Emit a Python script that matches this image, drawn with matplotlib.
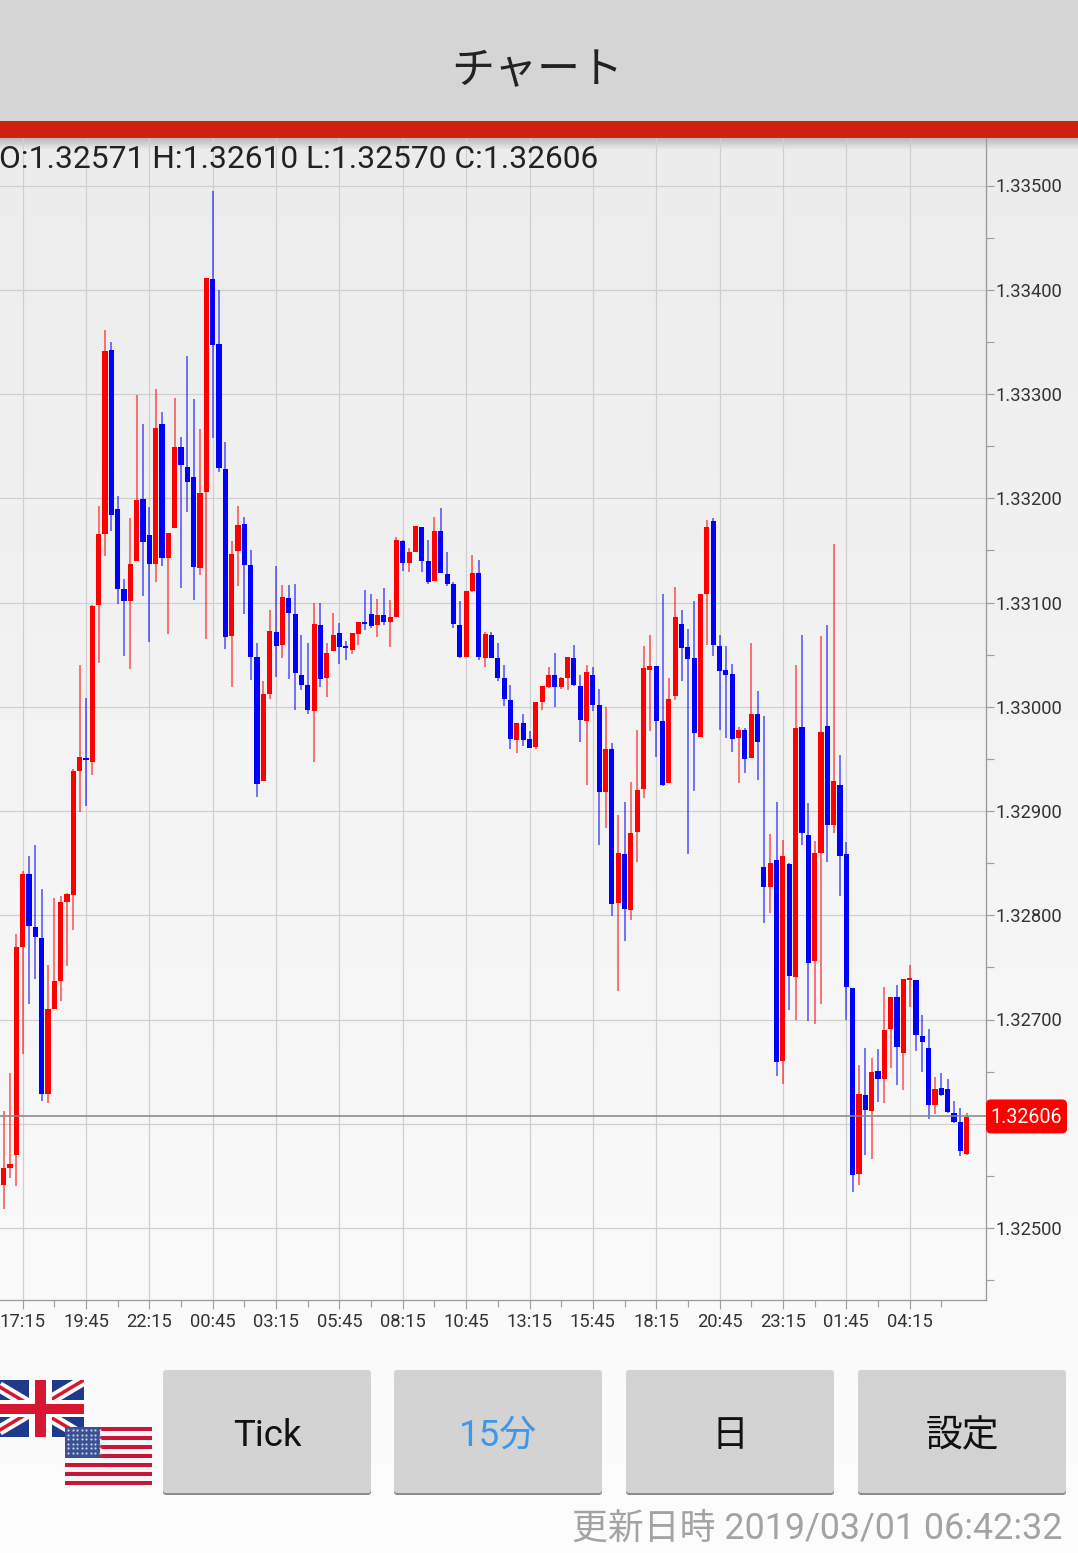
import numpy as np
import matplotlib
matplotlib.use("Agg")
import matplotlib.pyplot as plt
from matplotlib.patches import Rectangle, FancyBboxPatch

W, H = 1078, 1553

# prices in 1e-5 units, first bar is 3 bars before the 17:15 tick
opens = [132541,132558,132570,
 132770,132840,132789,132778,132629,132710,132737,132813,132819,132938,
 132950,132947,133098,133166,133342,133190,133113,133101,133140,133199,
 133165,133137,133271,133143,133171,133249,133230,133220,133133,133206,
 133410,133348,133228,133068,133149,133175,133136,133048,132929,133012,
 133072,133059,133104,133089,133030,133021,132996,133078,133028,133053,
 133071,133058,133054,133070,133080,133089,133078,133088,133081,133086,
 133159,133138,133148,133172,133140,133121,133169,133127,133118,133078,
 133048,133111,133128,133047,133069,133047,133028,133006,132968,132984,
 132969,132961,133005,133019,133030,133019,133028,133047,133020,132986,
 133030,133002,132918,132959,132812,132859,132805,132880,132921,133035,
 133039,132986,132927,133010,133079,133057,133047,132971,133108,133178,
 133058,133035,133031,132970,132978,132951,132993,132846,132827,132853,
 132660,132849,132741,132981,132877,132756,132860,132982,132887,132925,
 132859,132730,132552,132628,132612,132651,132643,132691,132722,132668,
 132738,132738,132684,132673,132618,132634,132633,132610,132602,132571]
closes = [132558,132561,132770,
 132840,132790,132779,132629,132710,132737,132813,132820,132938,132952,
 132949,133097,133166,133341,133184,133113,133101,133137,133198,133158,
 133137,133267,133143,133167,133249,133232,133216,133134,133205,133411,
 133347,133229,133067,133147,133174,133136,133048,132926,133012,133073,
 133058,133105,133090,133032,133021,132997,133079,133027,133052,133069,
 133057,133056,133071,133081,133079,133077,133088,133081,133086,133160,
 133138,133148,133173,133140,133120,133169,133128,133118,133079,133048,
 133111,133128,133048,133070,133047,133028,133007,132969,132984,132968,
 132960,133005,133020,133030,133019,133028,133048,133021,132987,133033,
 133002,132918,132959,132811,132860,132806,132879,132920,133037,133039,
 132986,132925,133007,133086,133056,133046,132975,133108,133172,133059,
 133034,133030,132969,132978,132950,132993,132966,132827,132850,132659,
 132857,132742,132980,132879,132754,132860,132976,132887,132929,132857,
 132731,132551,132629,132613,132650,132643,132690,132722,132674,132739,
 132739,132685,132678,132618,132633,132628,132611,132602,132574,132606]
highs = [132612,132649,132782,
 132842,132857,132867,132825,132752,132817,132818,132821,132940,133040,
 133008,133098,133193,133361,133350,133202,133123,133181,133299,133271,
 133192,133305,133283,133167,133296,133259,133336,133295,133266,133411,
 133495,133400,133254,133159,133193,133182,133150,133061,133025,133093,
 133135,133117,133117,133118,133069,133061,133100,133100,133061,133090,
 133080,133063,133071,133081,133112,133108,133103,133114,133102,133163,
 133160,133152,133173,133172,133160,133182,133191,133148,133120,133101,
 133111,133146,133141,133072,133072,133061,133040,133021,132984,132993,
 132977,133005,133020,133038,133052,133029,133048,133059,133030,133040,
 133038,133017,133000,132965,132896,132909,132928,132978,133058,133069,
 133039,133108,133028,133115,133093,133075,133101,133108,133179,133181,
 133069,133058,133041,132981,132980,133061,133015,132991,132878,132909,
 132872,132850,133040,133069,132908,132871,133068,133078,133156,132954,
 132870,132730,132656,132673,132663,132672,132731,132722,132733,132739,
 132752,132738,132704,132691,132645,132649,132643,132622,132615,132610]
lows = [132518,132548,132540,
 132667,132715,132739,132622,132620,132710,132718,132751,132786,132899,
 132905,132935,133042,133145,133169,133099,133049,133036,133140,133106,
 133062,133120,133135,133070,133171,133114,133187,133102,133126,133065,
 133258,133225,133055,133019,133116,133089,133026,132913,132929,133007,
 133029,133047,133027,132997,133016,132993,132947,133019,133009,133053,
 133041,133045,133051,133059,133074,133076,133067,133078,133057,133086,
 133130,133129,133148,133129,133118,133121,133128,133116,133076,133047,
 133048,133110,133045,133038,133047,133025,133001,132959,132956,132962,
 132960,132959,132997,133018,133000,133017,133016,133020,132966,132925,
 132996,132867,132884,132799,132727,132775,132795,132851,132912,132977,
 132952,132924,132927,133006,133025,132859,132919,132971,133059,133049,
 132978,132970,132957,132927,132936,132951,132930,132793,132802,132646,
 132638,132709,132700,132867,132699,132696,132715,132851,132879,132818,
 132700,132535,132541,132570,132566,132621,132620,132653,132637,132632,
 132712,132670,132650,132605,132609,132627,132610,132601,132569,132570]

time_labels = ["17:15","19:45","22:15","00:45","03:15","05:45","08:15","10:45",
               "13:15","15:45","18:15","20:45","23:15","01:45","04:15"]
price_ticks = [1.325,1.326,1.327,1.328,1.329,1.330,1.331,1.332,1.333,1.334,1.335]
last_price = 1.32606
last_line = 1.32607  # the line sits a hair above the printed close
ohlc_text = "O:1.32571 H:1.32610 L:1.32570 C:1.32606"
button_labels = ["Tick","15分","日","設定"]
update_text = "更新日時 2019/03/01 06:42:32"

FONT = ["Roboto","Noto Sans CJK JP","DejaVu Sans"]
plt.rcParams["font.family"] = FONT
RED = "#ff0000"
BLUE = "#0000ff"
px = 72/100  # one pixel in points

fig = plt.figure(figsize=(W/100, H/100), dpi=100)

# app screen behind the chart, in pixel coordinates
ui = fig.add_axes([0,0,1,1], zorder=0)
ui.set_xlim(0,W); ui.set_ylim(H,0); ui.axis("off")
grad = np.linspace(0,1,256).reshape(-1,1)
ui.imshow(grad, extent=[0,W,1553,138], aspect="auto", cmap=matplotlib.colors.LinearSegmentedColormap.from_list("bg",["#ececec","#fdfdfd"]), zorder=0)
ui.set_xlim(0,W); ui.set_ylim(H,0)
shadow = np.zeros((32,1,4)); shadow[:,0,3] = np.linspace(0.22,0,32)
ui.imshow(shadow, extent=[0,W,150,138], aspect="auto", zorder=1)
ui.set_xlim(0,W); ui.set_ylim(H,0)
ui.add_patch(Rectangle((0,0),W,121,fc="#d5d5d5",ec="none",zorder=2))
ui.add_patch(Rectangle((0,121),W,17,fc="#d2200f",ec="none",zorder=2))
ui.text(537,72,"チャート",ha="center",va="center",fontsize=31,color="#222222",zorder=3)

# buttons
bx = [163,394,626,858]
for x,lab in zip(bx,button_labels):
    ui.add_patch(FancyBboxPatch((x+2,1373),204,120,boxstyle="round,pad=2,rounding_size=3",mutation_scale=1,
                                fc="#8c8c8c",ec="none",zorder=2))
    ui.add_patch(FancyBboxPatch((x+2,1372),204,119,boxstyle="round,pad=2,rounding_size=3",mutation_scale=1,
                                fc="#d3d3d3",ec="none",zorder=3))
    col = "#3f97ea" if lab=="15分" else "#111111"
    ui.text(x+104,1436,lab,ha="center",va="center",fontsize=26.5,color=col,zorder=4)
ui.text(1062,1529,update_text,ha="right",va="center",fontsize=25.8,color="#a3a3a3",zorder=3)

# flags
navy, fred = "#1f3a8a", "#d6172f"
ui.add_patch(Rectangle((0,1380),84,57,fc=navy,ec="none",zorder=2))
clip_uk = Rectangle((0,1380),84,57,transform=ui.transData)
for a,b in [((-12,1380),(84,1437)),((-12,1437),(84,1380))]:
    l_, = ui.plot([a[0],b[0]],[a[1],b[1]],color="white",lw=11*px,solid_capstyle="butt",zorder=3)
    l_.set_clip_path(clip_uk)
    l_, = ui.plot([a[0],b[0]],[a[1],b[1]],color=fred,lw=3.5*px,solid_capstyle="butt",zorder=3)
    l_.set_clip_path(clip_uk)
ui.add_patch(Rectangle((0,1400),84,17,fc="white",ec="none",zorder=3))
ui.add_patch(Rectangle((29,1380),23,57,fc="white",ec="none",zorder=3))
ui.add_patch(Rectangle((0,1404),84,10,fc=fred,ec="none",zorder=4))
ui.add_patch(Rectangle((35,1380),11,57,fc=fred,ec="none",zorder=4))
ui.add_patch(Rectangle((65,1427),87,58,fc="#f6f6f6",ec="none",zorder=5))
for k in range(0,13,2):
    ui.add_patch(Rectangle((65,1427+k*58/13),87,58/13,fc="#c8153a",ec="none",zorder=6))
ui.add_patch(Rectangle((65,1427),35,31,fc="#3a5294",ec="none",zorder=7))
sx, sy = np.meshgrid(np.arange(68,100,4.5),np.arange(1430,1457,4.5))
ui.scatter(sx.ravel(),sy.ravel(),s=2.5,c="#c9d2ea",linewidths=0,zorder=8)

# chart axes, limits set so the prices land on the reference pixels
ax = fig.add_axes([0,(H-1300)/H,986/W,(1300-138)/H], zorder=2)
ax.patch.set_alpha(0)
xs = np.arange(len(opens))-3
o,c,h,l = [np.array(v)/1e5 for v in (opens,closes,highs,lows)]
colors = np.where(c>=o,RED,BLUE)
ax.vlines(xs,l,h,colors=colors,lw=1.6*px,alpha=0.65,zorder=3)
ax.bar(xs,np.maximum(np.abs(c-o),0.00002),bottom=np.minimum(o,c),width=0.82,color=colors,linewidth=0,zorder=4)
ax.axhline(last_line,color="#888888",lw=1.6*px,zorder=5)

ax.set_xlim(-22.7/6.335,(986-22.7)/6.335)
ax.set_ylim(1.325-72/104250,1.325+1090/104250)
ax.set_xticks(np.arange(len(time_labels))*10)
ax.set_xticklabels(time_labels)
ax.set_xticks(np.arange(5,150,10),minor=True)
ax.set_yticks(price_ticks)
# 1.32600 stays hidden under the price tag in the reference
ax.set_yticklabels(["" if v==1.326 else "%.5f"%v for v in price_ticks])
ax.set_yticks(np.arange(1.3245,1.3352,0.001),minor=True)
ax.yaxis.tick_right()
ax.tick_params(axis="both",which="major",labelsize=13.2,labelcolor="#333333",color="#a0a0a0",width=1.2*px)
ax.tick_params(axis="both",which="minor",color="#a0a0a0",width=1.2*px)
ax.tick_params(axis="x",which="major",length=9*px,pad=2.8)
ax.tick_params(axis="x",which="minor",length=7*px)
ax.tick_params(axis="y",which="major",length=8*px,pad=1.2)
ax.tick_params(axis="y",which="minor",length=8*px)
ax.grid(True,which="major",color="#cfcfcf",lw=1.2*px)
ax.set_axisbelow(True)
for s in ("left","top"):
    ax.spines[s].set_visible(False)
for s in ("right","bottom"):
    ax.spines[s].set_color("#9a9a9a")
    ax.spines[s].set_linewidth(1.3*px)

# things drawn over the chart: ohlc readout and last price tag
top = fig.add_axes([0,0,1,1], zorder=3)
top.set_xlim(0,W); top.set_ylim(H,0); top.axis("off"); top.patch.set_alpha(0)
top.text(-1,160,ohlc_text,ha="left",va="center",fontsize=22.9,color="#222222")
tag_y = H-ax.transData.transform((0,last_line))[1]
top.add_patch(FancyBboxPatch((990,tag_y-13),73,26,boxstyle="round,pad=4,rounding_size=5",mutation_scale=1,fc=RED,ec="none"))
top.text(1026.5,tag_y+1.5,"%.5f"%last_price,ha="center",va="center",fontsize=14.1,color="white")

fig.savefig("out.png",dpi=100)
